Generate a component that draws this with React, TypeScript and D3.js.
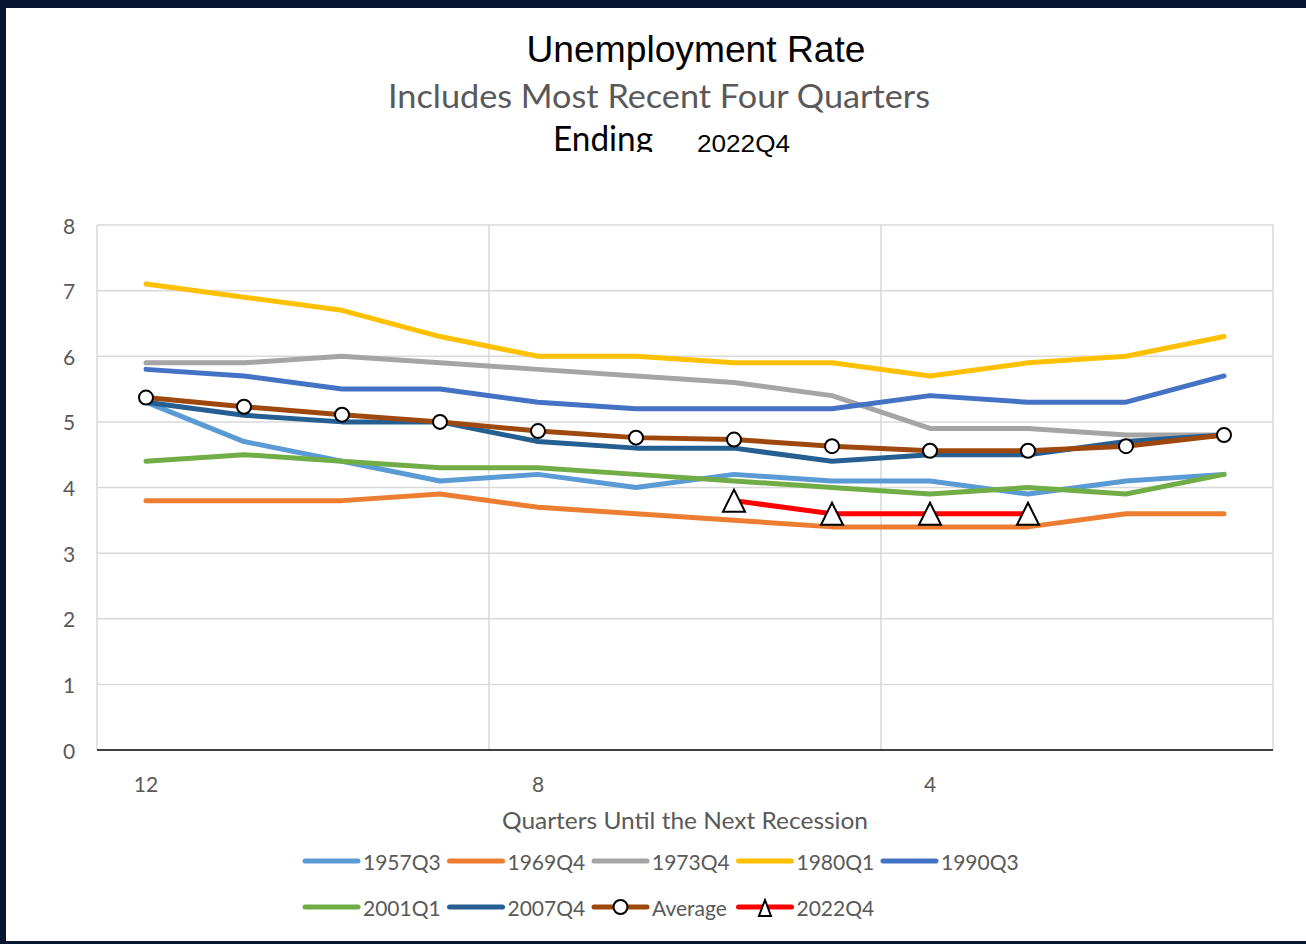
import React from "react";
import * as d3 from "d3";

const categories = ["12", "11", "10", "9", "8", "7", "6", "5", "4", "3", "2", "1"];
const tickLabels = ["12", "8", "4"];
const yTicks = [0, 1, 2, 3, 4, 5, 6, 7, 8];

const s1957Q3 = [5.3, 4.7, 4.4, 4.1, 4.2, 4.0, 4.2, 4.1, 4.1, 3.9, 4.1, 4.2];
const s1969Q4 = [3.8, 3.8, 3.8, 3.9, 3.7, 3.6, 3.5, 3.4, 3.4, 3.4, 3.6, 3.6];
const s1973Q4 = [5.9, 5.9, 6.0, 5.9, 5.8, 5.7, 5.6, 5.4, 4.9, 4.9, 4.8, 4.8];
const s1980Q1 = [7.1, 6.9, 6.7, 6.3, 6.0, 6.0, 5.9, 5.9, 5.7, 5.9, 6.0, 6.3];
const s1990Q3 = [5.8, 5.7, 5.5, 5.5, 5.3, 5.2, 5.2, 5.2, 5.4, 5.3, 5.3, 5.7];
const s2001Q1 = [4.4, 4.5, 4.4, 4.3, 4.3, 4.2, 4.1, 4.0, 3.9, 4.0, 3.9, 4.2];
const s2007Q4 = [5.3, 5.1, 5.0, 5.0, 4.7, 4.6, 4.6, 4.4, 4.5, 4.5, 4.7, 4.8];
const sAverage = [5.37, 5.23, 5.11, 5.0, 4.86, 4.76, 4.73, 4.63, 4.56, 4.56, 4.63, 4.8];
const s2022Q4: (number | null)[] = [null, null, null, null, null, null, 3.8, 3.6, 3.6, 3.6, null, null];

const seriesNames = ["1957Q3", "1969Q4", "1973Q4", "1980Q1", "1990Q3", "2001Q1", "2007Q4", "Average", "2022Q4"];
const seriesColors = ["#5B9BD5", "#ED7D31", "#A5A5A5", "#FFC000", "#4472C4", "#70AD47", "#255E91", "#9E480E", "#FF0000"];
const seriesValues: (number | null)[][] = [s1957Q3, s1969Q4, s1973Q4, s1980Q1, s1990Q3, s2001Q1, s2007Q4, sAverage, s2022Q4];
const seriesMarkers = ["none", "none", "none", "none", "none", "none", "none", "circle", "triangle"];

const W = 1306;
const H = 944;
const plot = { left: 97, right: 1273, top: 225, bottom: 750 };
const CAL = "Lato, 'Open Sans', sans-serif";
const ARIAL = "'Liberation Sans', Arial, sans-serif";
const GRAY = "#595959";

const triPath = (cx: number, cy: number, hw = 11, h = 22) =>
  `M${cx},${cy - h / 2}L${cx + hw},${cy + h / 2}L${cx - hw},${cy + h / 2}Z`;

export default function App() {
  const x = d3.scaleBand<string>().domain(categories).range([plot.left, plot.right]).padding(0);
  const cx = (c: string) => (x(c) as number) + x.bandwidth() / 2;
  const y = d3.scaleLinear().domain([0, 8]).range([plot.bottom, plot.top]);

  const line = d3
    .line<number | null>()
    .defined((d) => d !== null)
    .x((_, i) => cx(categories[i]))
    .y((d) => y(d as number));

  const vGrid = [categories[4], categories[8]].map((c) => x(c) as number).concat([plot.right]);

  const legendRows = [
    [0, 1, 2, 3, 4],
    [5, 6, 7, 8],
  ];
  const legendX0 = 305;
  const legendStride = 144.5;
  const legendY = [861, 907];

  return (
    <svg width={W} height={H} style={{ position: "absolute", left: 0, top: 0 }}>
      <defs>
        <clipPath id="endClip">
          <rect x={0} y={0} width={W} height={152} />
        </clipPath>
      </defs>
      <rect x={0} y={0} width={W} height={H} fill="#061630" />
      <rect x={6} y={8} width={W - 6} height={933} fill="#FFFFFF" />

      {/* titles */}
      <text x={696} y={62} textAnchor="middle" fontFamily={ARIAL} fontSize={36} fill="#000" textLength={339} lengthAdjust="spacingAndGlyphs">
        Unemployment Rate
      </text>
      <text x={659} y={108} textAnchor="middle" fontFamily={CAL} fontSize={33} fill={GRAY} textLength={542} lengthAdjust="spacingAndGlyphs">
        Includes Most Recent Four Quarters
      </text>
      <g clipPath="url(#endClip)">
        <text x={553} y={151} fontFamily={CAL} fontSize={34} fill="#000" textLength={100} lengthAdjust="spacingAndGlyphs">
          Ending
        </text>
      </g>
      <text x={697} y={152} fontFamily={ARIAL} fontSize={23} fill="#000" textLength={93} lengthAdjust="spacingAndGlyphs">
        2022Q4
      </text>

      {/* gridlines */}
      {yTicks.filter((t) => t > 0).map((t) => (
        <line key={"h" + t} x1={plot.left} x2={plot.right} y1={y(t)} y2={y(t)} stroke="#D9D9D9" strokeWidth={1.5} />
      ))}
      <line x1={plot.left} x2={plot.left} y1={plot.top} y2={plot.bottom} stroke="#D9D9D9" strokeWidth={1.5} />
      {vGrid.map((gx, i) => (
        <line key={"v" + i} x1={gx} x2={gx} y1={plot.top} y2={plot.bottom} stroke="#D9D9D9" strokeWidth={1.5} />
      ))}
      <line x1={plot.left} x2={plot.right} y1={plot.bottom} y2={plot.bottom} stroke="#000" strokeWidth={1.5} />

      {/* y tick labels */}
      {yTicks.map((t) => (
        <text key={"yt" + t} x={69} y={y(t)} textAnchor="middle" dominantBaseline="central" fontFamily={CAL} fontSize={21} fill={GRAY}>
          {t}
        </text>
      ))}
      {/* x tick labels */}
      {tickLabels.map((c) => (
        <text key={"xt" + c} x={cx(c)} y={783} textAnchor="middle" dominantBaseline="central" fontFamily={CAL} fontSize={21} fill={GRAY}>
          {c}
        </text>
      ))}
      <text x={685} y={829} textAnchor="middle" fontFamily={CAL} fontSize={23} fill={GRAY} textLength={366} lengthAdjust="spacingAndGlyphs">
        Quarters Until the Next Recession
      </text>

      {/* series */}
      {seriesValues.map((vals, si) => (
        <path
          key={"s" + si}
          d={line(vals) || ""}
          fill="none"
          stroke={seriesColors[si]}
          strokeWidth={5}
          strokeLinecap="round"
          strokeLinejoin="round"
        />
      ))}
      {seriesValues.map((vals, si) =>
        seriesMarkers[si] === "circle"
          ? vals.map((v, i) =>
              v === null ? null : (
                <circle key={"c" + si + "-" + i} cx={cx(categories[i])} cy={y(v)} r={7} fill="#fff" stroke="#000" strokeWidth={2} />
              )
            )
          : seriesMarkers[si] === "triangle"
          ? vals.map((v, i) =>
              v === null ? null : (
                <path key={"t" + si + "-" + i} d={triPath(cx(categories[i]), y(v))} fill="#fff" stroke="#000" strokeWidth={2} />
              )
            )
          : null
      )}

      {/* legend */}
      {legendRows.map((row, ri) =>
        row.map((si, k) => {
          const lx = legendX0 + k * legendStride;
          const ly = legendY[ri];
          return (
            <g key={"lg" + si}>
              <line x1={lx} x2={lx + 53} y1={ly} y2={ly} stroke={seriesColors[si]} strokeWidth={5} strokeLinecap="round" />
              {seriesMarkers[si] === "circle" && <circle cx={lx + 26.5} cy={ly} r={7} fill="#fff" stroke="#000" strokeWidth={2} />}
              {seriesMarkers[si] === "triangle" && (
                <path d={triPath(lx + 26.5, ly + 1, 6, 16)} fill="#fff" stroke="#000" strokeWidth={2} />
              )}
              <text x={lx + 58} y={ly} dominantBaseline="central" fontFamily={CAL} fontSize={21} fill={GRAY}>
                {seriesNames[si]}
              </text>
            </g>
          );
        })
      )}
    </svg>
  );
}
